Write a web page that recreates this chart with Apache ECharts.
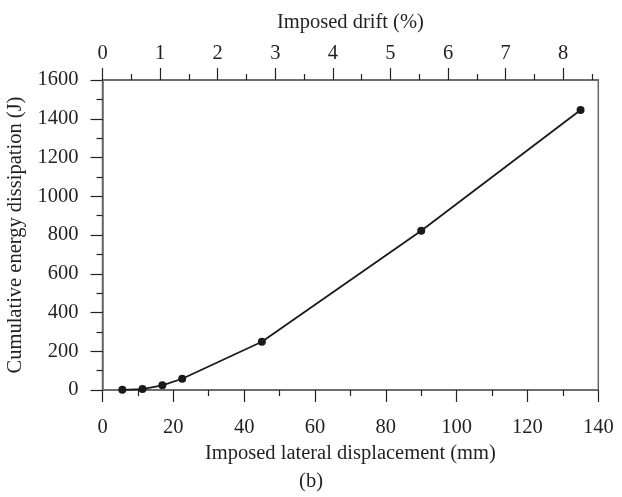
<!DOCTYPE html>
<html>
<head>
<meta charset="utf-8">
<script src="https://cdn.jsdelivr.net/npm/echarts@6/dist/echarts.min.js"></script>
<style>
html,body{margin:0;padding:0;background:#fff;}
#chart{width:622px;height:497px;}
</style>
</head>
<body>
<div id="chart"></div>
<script>
// Data
const displacementMm = [5.6, 11.3, 16.9, 22.5, 45, 90, 135];
const energyJ = [1, 5, 24, 58, 249, 822, 1445];
const driftTicks = [0, 1, 2, 3, 4, 5, 6, 7, 8];
const driftMinorTicks = [0.5, 1.5, 2.5, 3.5, 4.5, 5.5, 6.5, 7.5, 8.5];
const driftMax = 8.61; // drift (%) at 140 mm

const FONT = '"Liberation Serif", "Times New Roman", serif';
const TXT = '#231f20';
const LINE = '#666';
const FS = 20.5;

const chart = echarts.init(document.getElementById('chart'), null, {renderer: 'canvas'});
chart.setOption({
  animation: false,
  backgroundColor: '#fff',
  textStyle: {fontFamily: FONT, color: TXT},
  title: {
    text: '(b)', left: 'center', top: 466,
    textStyle: {fontFamily: FONT, fontSize: FS, fontWeight: 'normal', color: TXT}
  },
  grid: {
    left: 102.5, right: 23.7, top: 80, bottom: 107,
    show: true, borderColor: LINE, borderWidth: 1.5, containLabel: false,
    outerBoundsMode: 'none'
  },
  xAxis: [
    {
      type: 'value', position: 'bottom', min: 0, max: 140, interval: 20,
      name: 'Imposed lateral displacement (mm)', nameLocation: 'middle', nameGap: 45,
      nameTextStyle: {fontFamily: FONT, fontSize: FS, color: TXT},
      axisLine: {show: true, lineStyle: {color: LINE, width: 1.5}},
      axisTick: {show: true, inside: false, length: 12, lineStyle: {color: '#222', width: 1.2}},
      minorTick: {show: true, splitNumber: 2, length: 6, lineStyle: {color: '#222', width: 1.2}},
      axisLabel: {fontFamily: FONT, fontSize: FS, color: TXT, margin: 27},
      splitLine: {show: false}
    },
    {
      type: 'value', position: 'top', min: 0, max: driftMax, interval: 1,
      name: 'Imposed drift (%)', nameLocation: 'middle', nameGap: 47,
      nameTextStyle: {fontFamily: FONT, fontSize: FS, color: TXT},
      axisLine: {show: true, lineStyle: {color: LINE, width: 1.5}},
      axisTick: {show: true, inside: false, length: 12, customValues: driftTicks, lineStyle: {color: '#222', width: 1.2}},
      axisLabel: {fontFamily: FONT, fontSize: FS, color: TXT, margin: 16, customValues: driftTicks},
      splitLine: {show: false}
    },
    {
      type: 'value', position: 'top', min: 0, max: driftMax,
      axisLine: {show: false},
      axisTick: {show: true, inside: false, length: 6, customValues: driftMinorTicks, lineStyle: {color: '#222', width: 1.2}},
      axisLabel: {show: false},
      splitLine: {show: false}
    }
  ],
  yAxis: {
    type: 'value', min: 0, max: 1600, interval: 200,
    name: 'Cumulative energy dissipation (J)', nameLocation: 'middle', nameGap: 68,
    nameTextStyle: {fontFamily: FONT, fontSize: FS, color: TXT},
    axisLine: {show: true, lineStyle: {color: LINE, width: 1.5}},
    axisTick: {show: true, inside: false, length: 12, lineStyle: {color: '#222', width: 1.2}},
    minorTick: {show: true, splitNumber: 2, length: 6, lineStyle: {color: '#222', width: 1.2}},
    axisLabel: {fontFamily: FONT, fontSize: FS, color: TXT, margin: 24, formatter: v => String(v)},
    splitLine: {show: false}
  },
  series: [{
    type: 'line',
    xAxisIndex: 0, yAxisIndex: 0,
    data: displacementMm.map((x, i) => [x, energyJ[i]]),
    symbol: 'circle', symbolSize: 8,
    itemStyle: {color: '#1a1a1a'},
    lineStyle: {color: '#1a1a1a', width: 1.8},
    z: 5
  }]
});
</script>
</body>
</html>
